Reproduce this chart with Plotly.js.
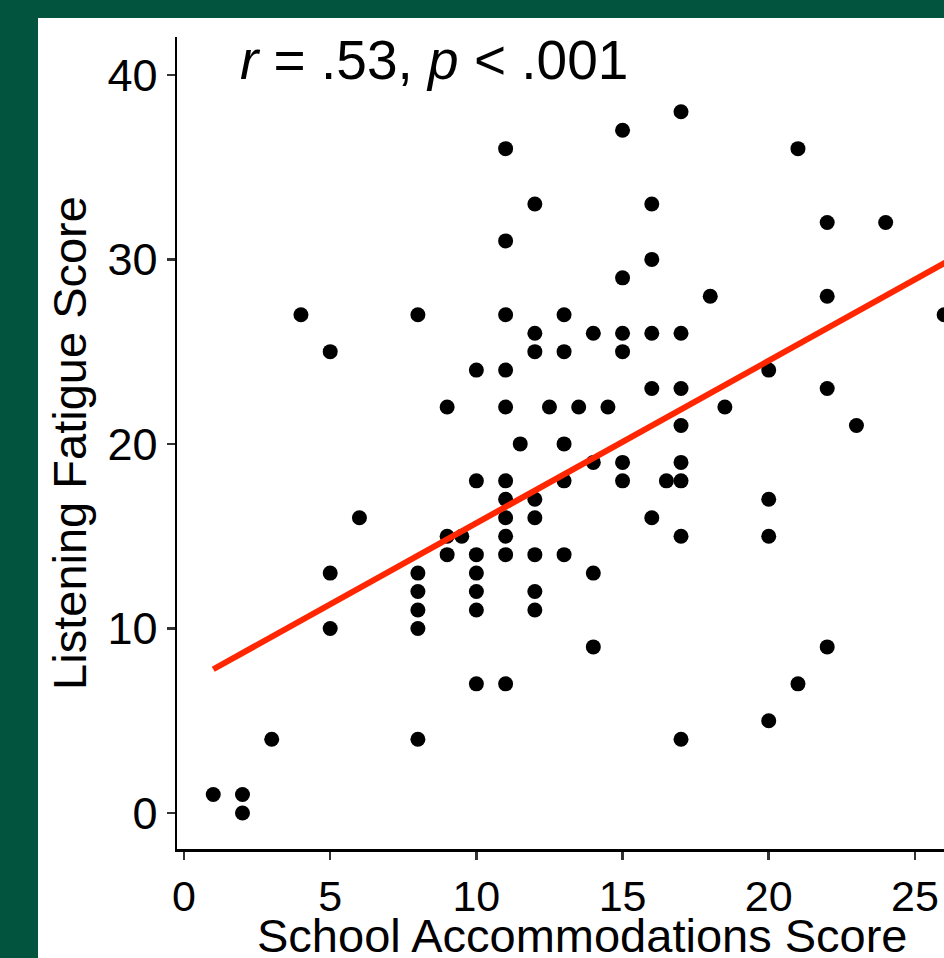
<!DOCTYPE html>
<html>
<head>
<meta charset="utf-8">
<script src="https://cdn.plot.ly/plotly-3.0.1.min.js"></script>
<style>
html, body { margin: 0; padding: 0; width: 944px; height: 958px; overflow: hidden; background: #03543f; }
#chart { position: absolute; left: 38px; top: 18px; width: 960px; height: 940px; }
</style>
</head>
<body>
<div id="chart"></div>
<script>
// School Accommodations Score (x) vs Listening Fatigue Score (y)
const accomScore = [1, 2, 2, 3, 4, 5, 5, 5, 6, 8, 8, 8, 8, 8, 8, 9, 9, 9, 9.5,
  10, 10, 10, 10, 10, 10, 10, 11, 11, 11, 11, 11, 11, 11, 11, 11, 11, 11, 11.5,
  12, 12, 12, 12, 12, 12, 12, 12, 12.5, 13, 13, 13, 13, 13, 13.5,
  14, 14, 14, 14, 14.5, 15, 15, 15, 15, 15, 15, 16, 16, 16, 16, 16, 16.5,
  17, 17, 17, 17, 17, 17, 17, 17, 18, 18.5, 20, 20, 20, 20, 21, 21,
  22, 22, 22, 22, 23, 24, 26];
const fatigueScore = [1, 1, 0, 4, 27, 25, 13, 10, 16, 27, 13, 12, 11, 10, 4, 22, 15, 14, 15,
  24, 18, 14, 13, 12, 11, 7, 36, 31, 27, 24, 22, 18, 17, 16, 15, 14, 7, 20,
  33, 26, 25, 17, 16, 14, 12, 11, 22, 27, 25, 20, 18, 14, 22,
  26, 19, 13, 9, 22, 37, 29, 26, 25, 19, 18, 33, 30, 26, 23, 16, 18,
  38, 26, 23, 21, 19, 18, 15, 4, 28, 22, 24, 17, 15, 5, 36, 7,
  32, 28, 23, 9, 21, 32, 27];

// Fitted regression line
const fitX = [1, 27];
const fitY = [7.79, 30.67];

const annotationText = "<i>r</i> = .53, <i>p</i> &lt; .001";
const xTitle = "School Accommodations Score";
const yTitle = "Listening Fatigue Score";
const xTicks = [0, 5, 10, 15, 20, 25];
const yTicks = [0, 10, 20, 30, 40];

const FONT = "Liberation Sans, Arial, sans-serif";

const traces = [
  {
    x: accomScore, y: fatigueScore, type: "scatter", mode: "markers",
    marker: { color: "#000000", size: 15 },
    cliponaxis: false, hoverinfo: "x+y"
  },
  {
    x: fitX, y: fitY, type: "scatter", mode: "lines",
    line: { color: "#ff2600", width: 6 },
    hoverinfo: "skip"
  }
];

const layout = {
  width: 960, height: 940,
  margin: { l: 139, r: 10, t: 19, b: 109 },
  paper_bgcolor: "#ffffff", plot_bgcolor: "#ffffff",
  showlegend: false,
  font: { family: FONT, color: "#000000" },
  xaxis: {
    range: [-0.24, 27.5], tickvals: xTicks, ticktext: xTicks.map(String),
    showgrid: false, zeroline: false,
    showline: true, linecolor: "#000000", linewidth: 2.5,
    ticks: "outside", ticklen: 8, tickwidth: 2.5, tickcolor: "#333333",
    tickfont: { family: FONT, size: 43, color: "#000000" }
  },
  yaxis: {
    range: [-1.95, 42.05], tickvals: yTicks, ticktext: yTicks.map(String),
    showgrid: false, zeroline: false,
    showline: true, linecolor: "#000000", linewidth: 2.5,
    ticks: "outside", ticklen: 8, tickwidth: 2.5, tickcolor: "#333333",
    tickfont: { family: FONT, size: 45, color: "#000000" },
    title: { text: yTitle, font: { family: FONT, size: 47, color: "#000000" }, standoff: 6 }
  },
  annotations: [
    {
      text: annotationText, x: 1.85, y: 40.8, xref: "x", yref: "y",
      xanchor: "left", yanchor: "middle", showarrow: false,
      font: { family: FONT, size: 55, color: "#000000" }
    },
    {
      text: xTitle, x: 0.5, y: -0.106, xref: "paper", yref: "paper",
      xanchor: "center", yanchor: "middle", showarrow: false,
      font: { family: FONT, size: 47, color: "#000000" }
    }
  ]
};

Plotly.newPlot("chart", traces, layout, { displayModeBar: false, staticPlot: true });
</script>
</body>
</html>
